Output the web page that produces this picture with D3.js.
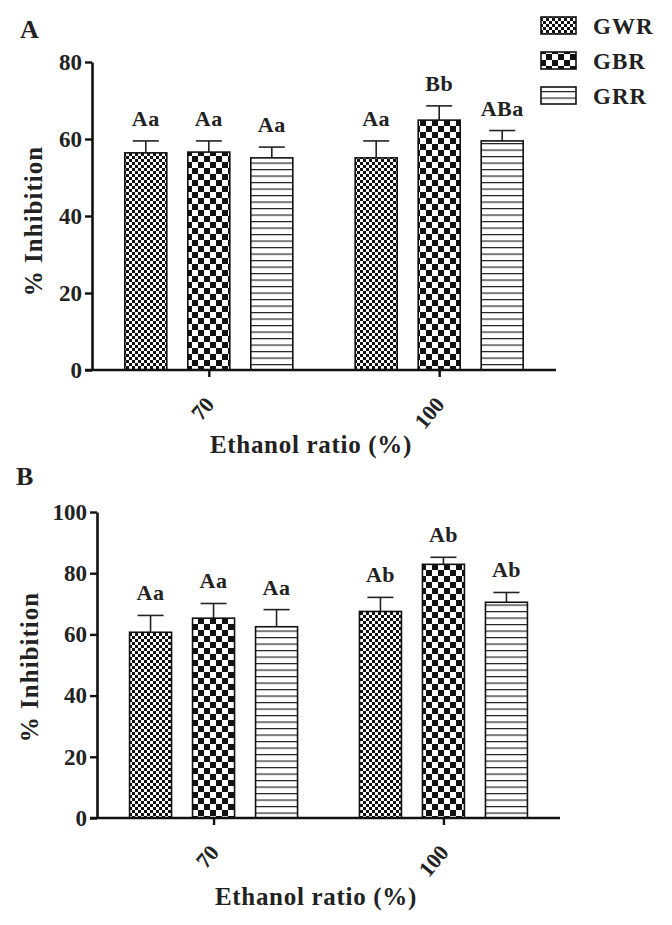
<!DOCTYPE html>
<html>
  <head>
    <meta charset="utf-8">
    <script src="https://d3js.org/d3.v7.min.js"></script>
    <title>% Inhibition by ethanol ratio</title>
    <style>
      body { margin: 0; background: #fff; }
      text { font-family: "Liberation Serif", "DejaVu Serif", serif; font-weight: bold; fill: #222; }
    </style>
  </head>
  <body>
    <div id="plot"></div>
    <script>

    // data
    const ratios = ["70", "100"];
    const extracts = ["GWR", "GBR", "GRR"];

    // panel A: rows = extracts, columns = ratios
    const meanA = [[56.4, 55.1], [56.6, 64.9], [55.1, 59.5]];
    const errA = [[3.1, 4.4], [2.9, 3.7], [2.8, 2.7]];
    const lettersA = [["Aa", "Aa"], ["Aa", "Bb"], ["Aa", "ABa"]];
    const ticksA = [0, 20, 40, 60, 80];

    // panel B
    const meanB = [[60.7, 67.5], [65.3, 82.9], [62.5, 70.5]];
    const errB = [[5.5, 4.6], [4.8, 2.3], [5.6, 3.2]];
    const lettersB = [["Aa", "Ab"], ["Aa", "Ab"], ["Aa", "Ab"]];
    const ticksB = [0, 20, 40, 60, 80, 100];

    const svg = d3.select("#plot")
      .append("svg")
        .attr("width", 672)
        .attr("height", 925);

    // fill patterns
    const defs = svg.append("defs");

    // GWR: fine checkerboard
    let p = defs.append("pattern").attr("id", "pGWR")
      .attr("patternUnits", "userSpaceOnUse").attr("width", 6).attr("height", 6);
    p.append("rect").attr("width", 6).attr("height", 6).attr("fill", "#fff");
    p.append("rect").attr("width", 3).attr("height", 3).attr("fill", "#111");
    p.append("rect").attr("x", 3).attr("y", 3).attr("width", 3).attr("height", 3).attr("fill", "#111");

    // GBR: coarse checkerboard
    p = defs.append("pattern").attr("id", "pGBR")
      .attr("patternUnits", "userSpaceOnUse").attr("width", 12).attr("height", 12);
    p.append("rect").attr("width", 12).attr("height", 12).attr("fill", "#fff");
    p.append("rect").attr("width", 6).attr("height", 6).attr("fill", "#111");
    p.append("rect").attr("x", 6).attr("y", 6).attr("width", 6).attr("height", 6).attr("fill", "#111");

    // GRR: horizontal lines
    p = defs.append("pattern").attr("id", "pGRR")
      .attr("patternUnits", "userSpaceOnUse").attr("width", 8).attr("height", 6.5);
    p.append("rect").attr("width", 8).attr("height", 6.5).attr("fill", "#fff");
    p.append("rect").attr("y", 0).attr("width", 8).attr("height", 1.2).attr("fill", "#222");

    function panel(cfg) {
      const g = svg.append("g");

      const y = d3.scaleLinear()
        .domain([0, cfg.ymax])
        .range([cfg.bottom, cfg.top]);

      const x = d3.scalePoint()
        .domain(ratios)
        .range([cfg.left, cfg.right])
        .padding(0.507);

      const xs = d3.scaleBand()
        .domain(extracts)
        .range([-84, 84])
        .paddingInner(1 / 3);

      // bars
      extracts.forEach(function(e, i) {
        ratios.forEach(function(r, j) {
          const cx = x(r) + xs(e) + xs.bandwidth() / 2;
          const v = cfg.mean[i][j];
          const top = cfg.mean[i][j] + cfg.err[i][j];

          // error bar (upper only)
          g.append("line")
            .attr("x1", cx).attr("x2", cx)
            .attr("y1", y(v)).attr("y2", y(top))
            .attr("stroke", "#222").attr("stroke-width", 1.6);
          g.append("line")
            .attr("x1", cx - 13).attr("x2", cx + 13)
            .attr("y1", y(top)).attr("y2", y(top))
            .attr("stroke", "#222").attr("stroke-width", 1.6);

          g.append("rect")
            .attr("x", x(r) + xs(e))
            .attr("y", y(v))
            .attr("width", xs.bandwidth())
            .attr("height", y(0) - y(v))
            .attr("fill", "url(#p" + e + ")")
            .attr("stroke", "#111")
            .attr("stroke-width", 1.6);

          g.append("text")
            .attr("x", cx)
            .attr("y", y(top) - 15)
            .attr("text-anchor", "middle")
            .style("font-size", "22px")
            .style("letter-spacing", "0.5px")
            .text(cfg.letters[i][j]);
        });
      });

      // y axis
      const ya = g.append("g")
        .attr("transform", "translate(" + cfg.left + ",0)")
        .call(d3.axisLeft(y).tickValues(cfg.ticks).tickSize(7).tickPadding(3).tickSizeOuter(0));
      ya.select(".domain").attr("stroke", "#111").attr("stroke-width", 2.6);
      ya.selectAll(".tick line").attr("stroke", "#111").attr("stroke-width", 2.4);
      ya.selectAll(".tick text").style("font-size", "23px").attr("fill", "#222");

      // x axis
      const xa = g.append("g")
        .attr("transform", "translate(0," + cfg.bottom + ")")
        .call(d3.axisBottom(x).tickSize(7).tickSizeOuter(0));
      xa.select(".domain").attr("d", "M" + (cfg.left - 7) + ",0H" + cfg.right)
        .attr("stroke", "#111").attr("stroke-width", 2.6);
      xa.selectAll(".tick line").attr("stroke", "#111").attr("stroke-width", 2.4);
      xa.selectAll(".tick text")
        .style("font-size", "22px")
        .attr("fill", "#222")
        .attr("text-anchor", "end")
        .attr("dy", null)
        .attr("y", 0)
        .attr("transform", "translate(6,35) rotate(-50)");

      // labels
      g.append("text")
        .text(cfg.name)
        .attr("x", cfg.nameX)
        .attr("y", cfg.nameY)
        .style("font-size", "26px");

      g.append("text")
        .text("% Inhibition")
        .attr("transform", "translate(" + cfg.ylabX + "," + cfg.ylabY + ") rotate(-90)")
        .attr("text-anchor", "middle")
        .style("font-size", "25px")
        .style("letter-spacing", "1px");

      g.append("text")
        .text("Ethanol ratio (%)")
        .attr("x", cfg.xlabX)
        .attr("y", cfg.xlabY)
        .attr("text-anchor", "middle")
        .style("font-size", "25px")
        .style("letter-spacing", "0.7px");
    }

    panel({
      name: "A", nameX: 20, nameY: 38,
      mean: meanA, err: errA, letters: lettersA, ticks: ticksA, ymax: 80,
      left: 92, right: 556, top: 62, bottom: 370,
      ylabX: 42, ylabY: 221, xlabX: 311, xlabY: 453
    });

    panel({
      name: "B", nameX: 16, nameY: 485,
      mean: meanB, err: errB, letters: lettersB, ticks: ticksB, ymax: 100,
      left: 97, right: 560, top: 512, bottom: 818,
      ylabX: 38, ylabY: 667, xlabX: 316, xlabY: 905
    });

    // legend
    const leg = svg.append("g");
    extracts.forEach(function(e, i) {
      leg.append("rect")
        .attr("x", 541).attr("y", 17 + i * 35)
        .attr("width", 35).attr("height", 17)
        .attr("fill", "url(#p" + e + ")")
        .attr("stroke", "#111").attr("stroke-width", 1.6);
      leg.append("text")
        .attr("x", 593).attr("y", 34 + i * 35)
        .style("font-size", "23px")
        .style("letter-spacing", "1px")
        .text(e);
    });

    </script>
  </body>
</html>
